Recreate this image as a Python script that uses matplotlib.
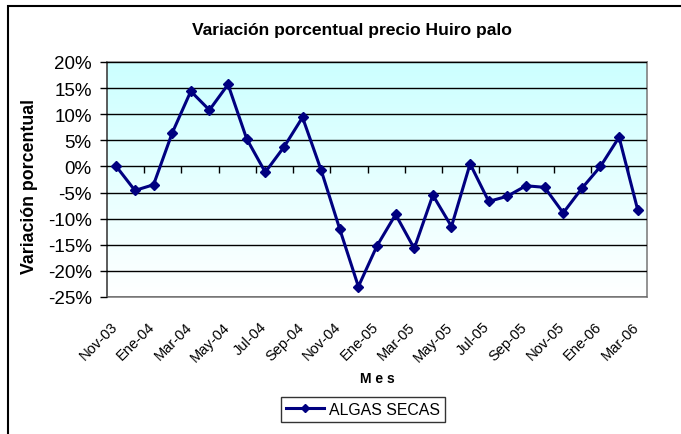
import numpy as np
import matplotlib
matplotlib.use("Agg")
import matplotlib.pyplot as plt
from matplotlib.lines import Line2D
from matplotlib.patches import Rectangle
from matplotlib.ticker import FuncFormatter, MultipleLocator
from matplotlib.transforms import ScaledTranslation

# === DATA ===
months = ["Nov-03", "Dic-03", "Ene-04", "Feb-04", "Mar-04", "Abr-04", "May-04", "Jun-04",
          "Jul-04", "Ago-04", "Sep-04", "Oct-04", "Nov-04", "Dic-04", "Ene-05", "Feb-05",
          "Mar-05", "Abr-05", "May-05", "Jun-05", "Jul-05", "Ago-05", "Sep-05", "Oct-05",
          "Nov-05", "Dic-05", "Ene-06", "Feb-06", "Mar-06"]
variacion = [0.0, -4.6, -3.5, 6.4, 14.4, 10.8, 15.7, 5.3,
             -1.1, 3.7, 9.4, -0.7, -12.0, -23.0, -15.2, -9.2,
             -15.7, -5.5, -11.5, 0.5, -6.7, -5.7, -3.7, -4.0,
             -8.9, -4.2, 0.0, 5.6, -8.3]
serie = "ALGAS SECAS"

NAVY = "#000080"
plt.rcParams["font.family"] = ["Liberation Sans", "DejaVu Sans"]

fig = plt.figure(figsize=(6.81, 4.35), dpi=100)
ax = fig.add_axes([107 / 681, 1 - 298 / 435, 540 / 681, 235 / 435])

x = np.arange(len(months))
ymin, ymax = -25, 20

# gradient background (light cyan at top -> white at bottom)
grad = np.linspace(0, 1, 256).reshape(-1, 1)
top = np.array([0.80, 1.0, 1.0])
bottom = np.array([1.0, 1.0, 1.0])
img = (top * (1 - grad) + bottom * grad)[:, None, :].repeat(2, axis=1)
ax.imshow(img, extent=[0, 1, 0, 1], transform=ax.transAxes, aspect="auto", zorder=0)

ax.set_xlim(-0.5, len(months) - 0.5)
ax.set_ylim(ymin, ymax)

# gridlines
ax.yaxis.set_major_locator(MultipleLocator(5))
ax.grid(True, axis="y", color="black", linewidth=1.0, zorder=1)
ax.set_axisbelow(False)

# line
ax.plot(x, variacion, color=NAVY, linewidth=2.2, marker="D", markersize=5.5,
        markerfacecolor=NAVY, markeredgecolor=NAVY, zorder=4, label=serie)

# y axis
ax.yaxis.set_major_formatter(FuncFormatter(lambda v, p: f"{v:.0f}%"))
ax.tick_params(axis="y", direction="out", length=5, width=1, labelsize=13.5, pad=6)
fig.text(29.5 / 681, 1 - 186 / 435, "Variación porcentual", rotation=90,
         ha="center", va="center", fontsize=12.8, fontweight="bold")

# x tick labels at bottom, every two months
ax.set_xticks(x[::2])
ax.set_xticklabels(months[::2], rotation=45, ha="right", va="top",
                   rotation_mode="anchor", fontsize=10.5)
ax.tick_params(axis="x", length=0, pad=16)
shift = ScaledTranslation(-6 / 100, 0, fig.dpi_scale_trans)
for lab in ax.get_xticklabels():
    lab.set_transform(lab.get_transform() + shift)

# spines
for s in ["top", "right", "bottom"]:
    ax.spines[s].set_color("#808080")
    ax.spines[s].set_linewidth(1.2)
ax.spines["left"].set_color("#404040")
ax.spines["left"].set_linewidth(1.2)

# zero axis with tick marks between categories
zero_pos = (0 - ymin) / (ymax - ymin)
sec = ax.secondary_xaxis(zero_pos)
sec.set_xticks(np.arange(1.5, len(months) - 1, 2))
sec.tick_params(axis="x", direction="out", length=5, width=1, labelbottom=False,
                labeltop=False, top=False, bottom=True)
sec.spines["bottom"].set_color("black")
sec.spines["bottom"].set_linewidth(1.0)
sec.spines["top"].set_visible(False)

fig.text(352 / 681, 1 - 31 / 435, "Variación porcentual precio Huiro palo",
         ha="center", va="center", fontsize=12.6, fontweight="bold")
fig.text(377 / 681, 1 - 379 / 435, "M e s", ha="center", va="center",
         fontsize=10, fontweight="bold")

handle = Line2D([], [], color=NAVY, linewidth=2.2, marker="D", markersize=4.5)
leg = fig.legend([handle], [serie], loc="center", bbox_to_anchor=(363 / 681, 1 - 410.5 / 435),
                 fontsize=11.4, frameon=True, fancybox=False, handlelength=2.4,
                 handletextpad=0.3, borderpad=0.3, borderaxespad=0)
leg.get_frame().set_edgecolor("black")
leg.get_frame().set_linewidth(1.0)

# outer chart border (left and top visible)
fig.patches.append(Rectangle((8 / 681, -0.1), 1.2, 1.1 - 7 / 435, transform=fig.transFigure,
                             fill=False, edgecolor="black", linewidth=1.5))

fig.savefig("out.png", dpi=100)
